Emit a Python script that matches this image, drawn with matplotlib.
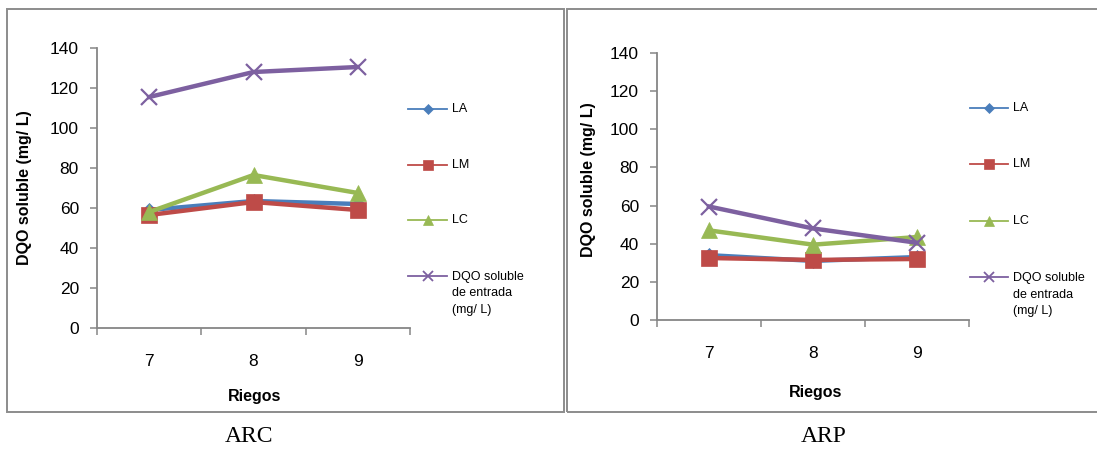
import matplotlib
matplotlib.use("Agg")
import matplotlib.pyplot as plt
from matplotlib.lines import Line2D
from matplotlib.patches import Rectangle

plt.rcParams["font.family"] = ["Liberation Sans", "DejaVu Sans"]

# %% Data

riegos = [7, 8, 9]
series_names = ["LA", "LM", "LC", "DQO soluble\nde entrada\n(mg/ L)"]

arc_la = [59, 63.5, 62]
arc_lm = [56.5, 63, 59]
arc_lc = [58, 76.5, 67.5]
arc_dqo = [115.5, 128, 130.5]

arp_la = [34, 31, 33]
arp_lm = [32.5, 31.5, 32]
arp_lc = [47, 39.5, 43.5]
arp_dqo = [59.5, 48, 40.5]

y_ticks = [0, 20, 40, 60, 80, 100, 120, 140]

# %% Styles

colors = ["#4a7ebb", "#be4b48", "#98b954", "#7d60a0"]
markers = ["D", "s", "^", "x"]
marker_sizes = [7, 11, 11, 12]
legend_sizes = [5, 7, 7, 7]
axis_grey = "#868686"
border_grey = "#8c8c8c"

W, H = 1097, 450
fig = plt.figure(figsize=(W / 100, H / 100), dpi=100)


def fx(px):
    return px / W


def fy(py):
    return 1 - py / H


def draw_panel(values, box, legend_x, legend_y, ylabel_xy, xlabel_xy, caption, caption_xy, frame):
    left, top, right, bottom = box
    ax = fig.add_axes([fx(left), fy(bottom), fx(right - left), (bottom - top) / H])

    positions = range(1, len(riegos) + 1)
    for vals, c, m, ms in zip(values, colors, markers, marker_sizes):
        ax.plot(positions, vals, color=c, lw=3.2, marker=m, ms=ms,
                markeredgecolor=c, mew=1.6 if m == "x" else 0.5, clip_on=False)

    ax.set_xlim(0.5, len(riegos) + 0.5)
    ax.set_ylim(0, 140)
    ax.set_yticks(y_ticks)
    ax.set_yticklabels([str(t) for t in y_ticks], fontsize=12.5)
    ax.set_xticks([p + 0.5 for p in range(0, len(riegos) + 1)])
    ax.set_xticklabels([])
    ax.set_xticks(list(positions), minor=True)
    ax.set_xticklabels([str(r) for r in riegos], minor=True, fontsize=12.5)
    ax.tick_params(axis="y", direction="out", length=5, width=1.1, color=axis_grey, pad=8)
    ax.tick_params(axis="x", which="major", direction="out", length=5, width=1.1, color=axis_grey)
    ax.tick_params(axis="x", which="minor", length=0, pad=19)

    for side in ["top", "right"]:
        ax.spines[side].set_visible(False)
    for side in ["left", "bottom"]:
        ax.spines[side].set_color(axis_grey)
        ax.spines[side].set_linewidth(1.3)
    ax.patch.set_alpha(0)

    # legend drawn at the right of the plot area
    x0, x1 = legend_x
    for name, c, m, ms, ly in zip(series_names, colors, markers, legend_sizes, legend_y):
        fig.add_artist(Line2D([fx(x0), fx(x1)], [fy(ly), fy(ly)], color=c, lw=1.3))
        fig.add_artist(Line2D([fx((x0 + x1) / 2)], [fy(ly)], color=c, marker=m, ms=ms,
                              mew=1.3 if m == "x" else 0.5, markeredgecolor=c))
        if "\n" in name:
            fig.text(fx(x1 + 5), fy(ly - 5), name, fontsize=9, va="top", ha="left",
                     linespacing=1.5)
        else:
            fig.text(fx(x1 + 5), fy(ly), name, fontsize=9, va="center", ha="left")

    fig.text(fx(ylabel_xy[0]), fy(ylabel_xy[1]), "DQO soluble (mg/ L)", rotation=90,
             fontsize=11.5, fontweight="bold", ha="center", va="center")
    fig.text(fx(xlabel_xy[0]), fy(xlabel_xy[1]), "Riegos", fontsize=11.5,
             fontweight="bold", ha="center", va="center")
    fig.text(fx(caption_xy[0]), fy(caption_xy[1]), caption, fontsize=17,
             family="Liberation Serif", ha="center", va="center")

    fl, ft, fr, fb = frame
    fig.add_artist(Rectangle((fx(fl), fy(fb)), fx(fr - fl), (fb - ft) / H,
                             fill=False, edgecolor=border_grey, lw=1.4))
    return ax


draw_panel(
    [arc_la, arc_lm, arc_lc, arc_dqo],
    box=(97, 48, 410, 328),
    legend_x=(408, 447),
    legend_y=[109, 165, 220, 276],
    ylabel_xy=(25, 188),
    xlabel_xy=(255, 397),
    caption="ARC",
    caption_xy=(249, 437),
    frame=(7, 9, 564, 412),
)

draw_panel(
    [arp_la, arp_lm, arp_lc, arp_dqo],
    box=(657, 53, 969, 320),
    legend_x=(970, 1008),
    legend_y=[108, 164, 221, 277],
    ylabel_xy=(588, 180),
    xlabel_xy=(816, 393),
    caption="ARP",
    caption_xy=(824, 437),
    frame=(567, 9, 1100, 412),
)

fig.savefig("out.png", dpi=100)
